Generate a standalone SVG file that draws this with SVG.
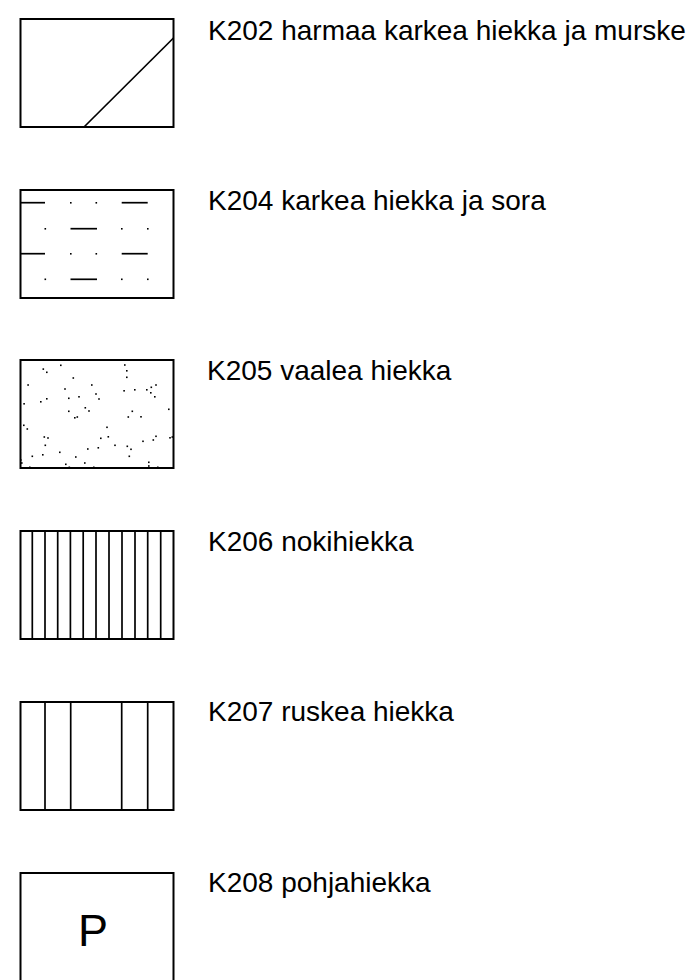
<svg xmlns="http://www.w3.org/2000/svg" width="697" height="980" viewBox="0 0 697 980">
<style>
.bx{fill:none;stroke:#000;stroke-width:2}
.ln{fill:none;stroke:#000;stroke-width:1.7}
.dt{fill:#000}
.lbl{font-family:"Liberation Sans",Arial,sans-serif;font-size:28px;fill:#000}
</style>
<defs>
<rect id="d" width="1.6" height="1.6" class="dt"/>
</defs>
<rect width="697" height="980" fill="#fff"/>
<g id="k202">
<rect class="bx" x="20.5" y="19" width="153" height="108"/>
<line class="ln" x1="84" y1="127" x2="173.5" y2="38"/>
<text class="lbl" x="208" y="40">K202 harmaa karkea hiekka ja murske</text>
</g>
<g id="k204">
<rect class="bx" x="20.5" y="190" width="153" height="108"/>
<g class="ln">
<line x1="20.5" y1="202.7" x2="45" y2="202.7"/>
<line x1="121.7" y1="202.7" x2="147.7" y2="202.7"/>
<line x1="70.5" y1="228.7" x2="97" y2="228.7"/>
<line x1="20.5" y1="253.7" x2="45" y2="253.7"/>
<line x1="121.7" y1="253.7" x2="147.7" y2="253.7"/>
<line x1="70.5" y1="279.3" x2="97" y2="279.3"/>
</g>
<use href="#d" x="70" y="202"/><use href="#d" x="95.5" y="202"/>
<use href="#d" x="44.5" y="228"/><use href="#d" x="121" y="228"/><use href="#d" x="147" y="228"/>
<use href="#d" x="70" y="253"/><use href="#d" x="95.5" y="253"/>
<use href="#d" x="44.5" y="278.5"/><use href="#d" x="121" y="278.5"/><use href="#d" x="147" y="278.5"/>
<text class="lbl" x="208" y="210">K204 karkea hiekka ja sora</text>
</g>
<g id="k205">
<rect class="bx" x="20.5" y="360" width="153" height="108"/>
<g>
<use href="#d" x="42.5" y="368.3"/><use href="#d" x="46" y="371.5"/><use href="#d" x="60" y="364.5"/><use href="#d" x="27.3" y="384.2"/>
<use href="#d" x="72.5" y="377.2"/><use href="#d" x="64.2" y="388.2"/><use href="#d" x="91" y="384.2"/><use href="#d" x="95.2" y="393.2"/>
<use href="#d" x="98.2" y="398.2"/><use href="#d" x="78.2" y="396"/><use href="#d" x="68" y="397.5"/><use href="#d" x="46" y="398"/>
<use href="#d" x="40" y="401"/><use href="#d" x="23.3" y="403"/><use href="#d" x="124" y="364.2"/><use href="#d" x="126" y="370"/>
<use href="#d" x="126" y="376.5"/><use href="#d" x="123.3" y="390"/><use href="#d" x="134" y="389"/><use href="#d" x="146" y="389"/>
<use href="#d" x="150.5" y="386.5"/><use href="#d" x="155.2" y="384.2"/><use href="#d" x="150" y="392"/><use href="#d" x="154" y="396"/>
<use href="#d" x="84.5" y="407"/><use href="#d" x="88.2" y="410.2"/><use href="#d" x="68" y="410.5"/><use href="#d" x="74" y="417"/>
<use href="#d" x="76.5" y="416.2"/><use href="#d" x="131.5" y="410.5"/><use href="#d" x="127.5" y="416.2"/><use href="#d" x="140.2" y="416"/>
<use href="#d" x="168" y="408.5"/><use href="#d" x="23" y="424.5"/><use href="#d" x="26.5" y="428.2"/><use href="#d" x="106.2" y="426.5"/>
<use href="#d" x="107.5" y="436"/><use href="#d" x="100" y="437.5"/><use href="#d" x="43.5" y="436.2"/><use href="#d" x="47.2" y="437.2"/>
<use href="#d" x="44.5" y="444.5"/><use href="#d" x="114.2" y="444.5"/><use href="#d" x="97.5" y="447"/><use href="#d" x="87" y="448.2"/>
<use href="#d" x="126.5" y="445.5"/><use href="#d" x="130.2" y="448.5"/><use href="#d" x="142.2" y="440.5"/><use href="#d" x="152.5" y="439.2"/>
<use href="#d" x="155.2" y="435.5"/><use href="#d" x="169.2" y="437"/><use href="#d" x="171.5" y="436.2"/><use href="#d" x="59" y="451.5"/>
<use href="#d" x="42" y="454"/><use href="#d" x="31.5" y="455.5"/><use href="#d" x="75" y="456.2"/><use href="#d" x="128.5" y="455.5"/>
<use href="#d" x="65" y="463.5"/><use href="#d" x="84" y="462.2"/><use href="#d" x="148" y="461.5"/><use href="#d" x="148" y="465.2"/>
<use href="#d" x="68.5" y="466.5"/><use href="#d" x="29" y="466.5"/><use href="#d" x="93" y="466.5"/><use href="#d" x="157" y="466.5"/>
<use href="#d" x="21" y="462.2"/><use href="#d" x="20" y="459.2"/><use href="#d" x="51" y="359"/>
</g>
<text class="lbl" x="207" y="380">K205 vaalea hiekka</text>
</g>
<g id="k206">
<rect class="bx" x="20.5" y="531" width="153" height="108"/>
<g class="ln">
<line x1="32.3" y1="531" x2="32.3" y2="639"/>
<line x1="45" y1="531" x2="45" y2="639"/>
<line x1="57.7" y1="531" x2="57.7" y2="639"/>
<line x1="70.4" y1="531" x2="70.4" y2="639"/>
<line x1="83.2" y1="531" x2="83.2" y2="639"/>
<line x1="96" y1="531" x2="96" y2="639"/>
<line x1="109" y1="531" x2="109" y2="639"/>
<line x1="122" y1="531" x2="122" y2="639"/>
<line x1="135" y1="531" x2="135" y2="639"/>
<line x1="147.7" y1="531" x2="147.7" y2="639"/>
<line x1="160.7" y1="531" x2="160.7" y2="639"/>
</g>
<text class="lbl" x="208" y="551">K206 nokihiekka</text>
</g>
<g id="k207">
<rect class="bx" x="20.5" y="702" width="153" height="108"/>
<g class="ln">
<line x1="45" y1="702" x2="45" y2="810"/>
<line x1="70.7" y1="702" x2="70.7" y2="810"/>
<line x1="121.7" y1="702" x2="121.7" y2="810"/>
<line x1="147.7" y1="702" x2="147.7" y2="810"/>
</g>
<text class="lbl" x="208" y="721">K207 ruskea hiekka</text>
</g>
<g id="k208">
<rect class="bx" x="20.5" y="873" width="153" height="108"/>
<text x="93" y="946" text-anchor="middle" font-family="Liberation Sans, Arial, sans-serif" font-size="45" fill="#000">P</text>
<text class="lbl" x="208" y="892">K208 pohjahiekka</text>
</g>
</svg>
